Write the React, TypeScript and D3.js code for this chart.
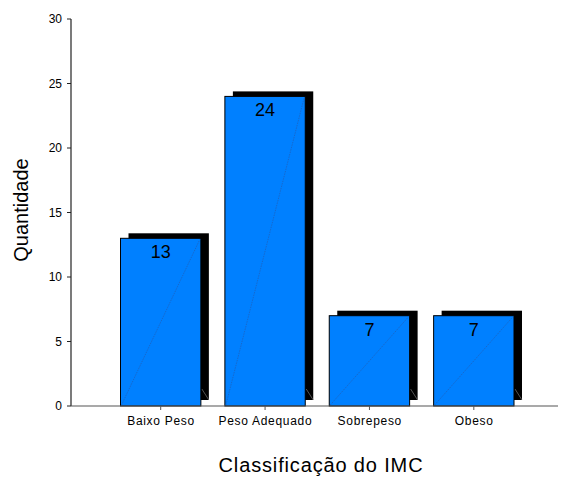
import React from "react";
import * as d3 from "d3";

const categories = ["Baixo Peso", "Peso Adequado", "Sobrepeso", "Obeso"];
const counts = [13, 24, 7, 7];
const yTicks = [0, 5, 10, 15, 20, 25, 30];

const W = 570;
const H = 478;
const FONT = "'Liberation Sans', Arial, Helvetica, sans-serif";

export default function App() {
  const y = d3.scaleLinear().domain([0, 30]).range([406, 19]);
  const x = d3
    .scaleBand<string>()
    .domain(categories)
    .range([108.5, 526])
    .paddingInner(0.23)
    .paddingOuter(0.115);

  const axisX = 71;
  const base = y(0);
  const dx = 8;
  const dy = -5;

  return (
    <svg
      width={W}
      height={H}
      style={{ position: "absolute", left: 0, top: 0, background: "#fff" }}
      fontFamily={FONT}
    >
      {/* bars with drop-shadow extrusion */}
      {categories.map((c, i) => {
        const x0 = x(c)!;
        const bw = x.bandwidth();
        const x1 = x0 + bw;
        const top = y(counts[i]);
        return (
          <g key={c}>
            <rect
              x={x0 + dx}
              y={top + dy}
              width={bw}
              height={base - top - 1}
              fill="#000"
            />
            <line
              x1={x0}
              y1={top + 0.5}
              x2={x0 + dx}
              y2={top + 0.5}
              stroke="#999"
              strokeWidth={1}
            />
            <line
              x1={x1 + 1}
              y1={base - 17}
              x2={x1 + dx}
              y2={base + dy - 1}
              stroke="#777"
              strokeWidth={0.7}
            />
            <rect
              x={x0}
              y={top}
              width={bw}
              height={base - top}
              fill="#0080ff"
              stroke="#000"
              strokeWidth={1}
            />
            <line
              x1={x0 + 1}
              y1={base - 1}
              x2={x1 - 1}
              y2={top + 1}
              stroke="#1f5fb8"
              strokeWidth={0.7}
              strokeDasharray="1.5 1"
            />
            <text
              x={x0 + bw / 2}
              y={top + 20}
              textAnchor="middle"
              fontSize={18}
              fill="#000"
            >
              {counts[i]}
            </text>
          </g>
        );
      })}

      {/* y axis */}
      <line x1={axisX} y1={y(30)} x2={axisX} y2={base} stroke="#222" strokeWidth={1.2} />
      {yTicks.map((t) => (
        <g key={t}>
          <line x1={axisX - 4} y1={y(t)} x2={axisX} y2={y(t)} stroke="#222" strokeWidth={1} />
          <text
            x={axisX - 9}
            y={y(t) + 4}
            textAnchor="end"
            fontSize={12}
            fill="#000"
          >
            {t}
          </text>
        </g>
      ))}

      {/* x axis */}
      <line x1={axisX} y1={base} x2={558} y2={base} stroke="#555" strokeWidth={1.2} />
      {categories.map((c) => {
        const cx = x(c)! + x.bandwidth() / 2;
        return (
          <g key={c}>
            <line x1={cx} y1={base} x2={cx} y2={base + 4} stroke="#555" strokeWidth={1} />
            <text
              x={cx + 0.35}
              y={425}
              textAnchor="middle"
              fontSize={12}
              letterSpacing={0.7}
              fill="#000"
            >
              {c}
            </text>
          </g>
        );
      })}

      {/* axis titles */}
      <text
        x={321}
        y={472}
        textAnchor="middle"
        fontSize={20}
        letterSpacing={0.85}
        fill="#000"
      >
        Classificação do IMC
      </text>
      <text
        transform="translate(28,210) rotate(-90)"
        textAnchor="middle"
        fontSize={20}
        fill="#000"
      >
        Quantidade
      </text>
    </svg>
  );
}
